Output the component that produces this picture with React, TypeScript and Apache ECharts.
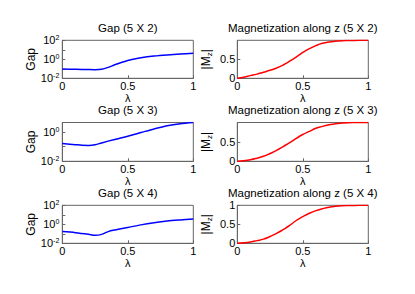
import React, { useEffect, useRef } from 'react';
import * as echarts from 'echarts';

const FONT = "'Liberation Sans', Arial, Helvetica, sans-serif";

const gapTitles = ['Gap (5 X 2)', 'Gap (5 X 3)', 'Gap (5 X 4)'];
const magTitles = ['Magnetization along z (5 X 2)', 'Magnetization along z (5 X 3)', 'Magnetization along z (5 X 4)'];

const gapLambda52 = [0, 0.1, 0.2, 0.25, 0.3, 0.35, 0.4, 0.45, 0.5, 0.55, 0.6, 0.7, 0.8, 0.9, 1];
const gap52 = [0.095, 0.089, 0.083, 0.081, 0.089, 0.141, 0.263, 0.468, 0.759, 1.1, 1.48, 2.19, 2.88, 3.55, 4.27];
const gapLambda53 = [0, 0.1, 0.15, 0.2, 0.25, 0.3, 0.4, 0.5, 0.6, 0.7, 0.8, 0.9, 1];
const gap53 = [0.166, 0.138, 0.126, 0.123, 0.135, 0.182, 0.316, 0.525, 0.933, 1.66, 2.75, 3.8, 4.57];
const gapLambda54 = [0, 0.1, 0.2, 0.25, 0.3, 0.35, 0.4, 0.5, 0.6, 0.7, 0.8, 0.9, 1];
const gap54 = [0.17, 0.132, 0.089, 0.069, 0.087, 0.17, 0.251, 0.468, 0.871, 1.45, 2.19, 2.88, 3.63];
const gapMax = [100, 4.57, 100];

const magLambda = [0, 0.05, 0.1, 0.15, 0.2, 0.25, 0.3, 0.35, 0.4, 0.45, 0.5, 0.55, 0.6, 0.65, 0.7, 0.75, 0.8, 0.85, 0.9, 0.95, 1];
const mag52 = [0, 0.03, 0.07, 0.11, 0.16, 0.21, 0.27, 0.35, 0.45, 0.56, 0.68, 0.78, 0.86, 0.92, 0.955, 0.975, 0.99, 0.995, 0.998, 0.999, 1];
const mag53 = [0, 0.015, 0.04, 0.08, 0.13, 0.2, 0.28, 0.38, 0.48, 0.59, 0.69, 0.77, 0.85, 0.9, 0.94, 0.97, 0.985, 0.995, 0.998, 0.999, 1];
const mag54 = [0, 0.012, 0.035, 0.07, 0.11, 0.18, 0.26, 0.36, 0.47, 0.6, 0.7, 0.79, 0.86, 0.91, 0.95, 0.975, 0.99, 0.996, 0.998, 0.999, 1];

const xTicks = [0, 0.5, 1];

const gapSets = [
  [gapLambda52, gap52],
  [gapLambda53, gap53],
  [gapLambda54, gap54],
];
const magSets = [mag52, mag53, mag54];

const ROW_TOP = [40.3, 122.5, 205.3];
const ROW_H = [38, 38.8, 38];
const COL_LEFT = [62.3, 237.3];
const COL_W = 131;

const AX = '#666666';

function logLabel(v: number) {
  const e = Math.log10(v);
  const r = Math.round(e);
  if (Math.abs(e - r) > 1e-6 || r % 2 !== 0) return '';
  return `{b|10}{s|${r}}`;
}

export default function App() {
  const ref = useRef<HTMLDivElement>(null);
  useEffect(() => {
    if (!ref.current) return;
    const chart = echarts.init(ref.current, null, { renderer: 'svg' });
    const grids: any[] = [];
    const xAxes: any[] = [];
    const yAxes: any[] = [];
    const series: any[] = [];
    const titles: any[] = [];
    const txt = { color: '#000', fontFamily: FONT, fontSize: 11 };
    for (let row = 0; row < 3; row++) {
      for (let col = 0; col < 2; col++) {
        const i = row * 2 + col;
        grids.push({
          left: COL_LEFT[col], top: ROW_TOP[row], width: COL_W, height: ROW_H[row],
          show: true, borderColor: AX, borderWidth: 1, backgroundColor: '#fff',
          containLabel: false, outerBoundsMode: 'none',
        });
        titles.push({
          text: col === 0 ? gapTitles[row] : magTitles[row],
          left: COL_LEFT[col] + COL_W / 2, top: ROW_TOP[row] - 18.5, textAlign: 'center', padding: 0,
          textStyle: { ...txt, fontSize: 11.5, fontWeight: 'normal' },
        });
        xAxes.push({
          gridIndex: i, type: 'value', min: xTicks[0], max: xTicks[xTicks.length - 1], interval: 0.5,
          name: 'λ', nameLocation: 'middle', nameGap: 11, nameTextStyle: { ...txt },
          axisLine: { show: true, lineStyle: { color: AX, width: 1 } },
          axisTick: { show: true, inside: true, length: 3, lineStyle: { color: AX } },
          axisLabel: { ...txt, margin: 2, formatter: (v: number) => String(v) },
          splitLine: { show: false },
        });
        if (col === 0) {
          yAxes.push({
            gridIndex: i, type: 'log', logBase: 10, min: 0.01, max: gapMax[row],
            name: 'Gap', nameLocation: 'middle', nameGap: 23, nameTextStyle: { ...txt, fontSize: 12 },
            axisLine: { show: true, lineStyle: { color: AX, width: 1 } },
            axisTick: { show: true, inside: true, length: 3, lineStyle: { color: AX } },
            axisLabel: {
              ...txt, margin: 3, formatter: logLabel, hideOverlap: false,
              showMinLabel: true, showMaxLabel: true,
              rich: {
                b: { fontFamily: FONT, fontSize: 11, color: '#000' },
                s: { fontFamily: FONT, fontSize: 7, color: '#000', padding: [0, 0, 6, 0] },
              },
            },
            splitLine: { show: false },
          });
          const [lx, ly] = gapSets[row];
          series.push({
            type: 'line', xAxisIndex: i, yAxisIndex: i, showSymbol: false, smooth: 0.3,
            lineStyle: { color: '#0000ff', width: 1.5 }, itemStyle: { color: '#0000ff' },
            data: lx.map((x, k) => [x, ly[k]]),
          });
        } else {
          yAxes.push({
            gridIndex: i, type: 'value', min: 0, max: 1, interval: 0.5,
            name: '|M{sub|z}|', nameLocation: 'middle', nameGap: 24,
            nameTextStyle: {
              ...txt, fontSize: 12,
              rich: { sub: { fontFamily: FONT, fontSize: 8, color: '#000', padding: [6, 0, 0, 0] } },
            },
            axisLine: { show: true, lineStyle: { color: AX, width: 1 } },
            axisTick: { show: true, inside: true, length: 3, lineStyle: { color: AX } },
            axisLabel: { ...txt, margin: 2, showMaxLabel: row === 2, formatter: (v: number) => String(v) },
            splitLine: { show: false },
          });
          const ly = magSets[row];
          series.push({
            type: 'line', xAxisIndex: i, yAxisIndex: i, showSymbol: false, smooth: 0.5,
            lineStyle: { color: '#ff0000', width: 1.5 }, itemStyle: { color: '#ff0000' },
            data: magLambda.map((x, k) => [x, ly[k]]),
          });
        }
      }
    }
    chart.setOption({
      animation: false,
      backgroundColor: '#fff',
      title: titles,
      grid: grids,
      xAxis: xAxes,
      yAxis: yAxes,
      series,
    });
    return () => chart.dispose();
  }, []);
  return (
    <div
      ref={ref}
      style={{ position: 'absolute', left: 0, top: 0, width: 415, height: 294 }}
    />
  );
}
